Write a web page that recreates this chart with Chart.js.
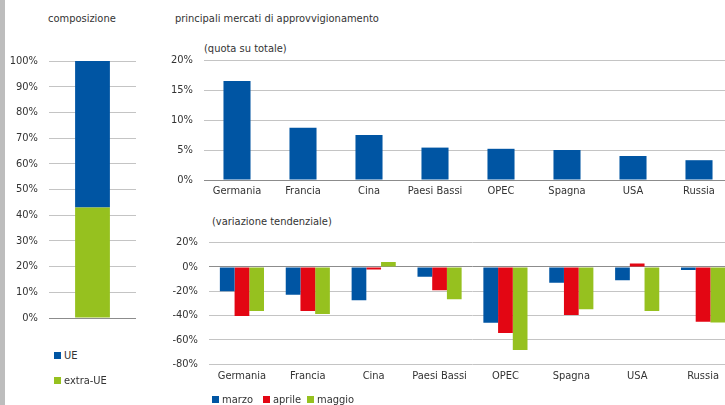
<!DOCTYPE html>
<html><head><meta charset="utf-8">
<script src="https://cdn.jsdelivr.net/npm/chart.js@4/dist/chart.umd.min.js"></script>
<style>
body{margin:0;width:725px;height:405px;overflow:hidden;position:relative;background:#fff;font-family:'DejaVu Sans Condensed','Liberation Sans Narrow',sans-serif;color:#333;}
.strip{position:absolute;left:0;top:0;width:5px;height:405px;background:#bdbdbd}
.t{position:absolute;font-size:11px;white-space:nowrap;line-height:13px}
.box{position:absolute}
.sq{display:inline-block;width:7px;height:7px;margin-right:3px;vertical-align:0px}
</style></head>
<body>
<div class="strip"></div>
<div class="t" style="left:48px;top:12px">composizione</div>
<div class="t" style="left:175px;top:12px">principali mercati di approvvigionamento</div>
<div class="t" style="left:204px;top:42px">(quota su totale)</div>
<div class="t" style="left:212px;top:215px">(variazione tendenziale)</div>
<div class="box" style="left:0;top:0;width:150px;height:340px"><canvas id="c1" width="150" height="340"></canvas></div>
<div class="box" style="left:150px;top:40px;width:590px;height:170px"><canvas id="c2" width="590" height="170"></canvas></div>
<div class="box" style="left:150px;top:225px;width:590px;height:170px"><canvas id="c3" width="590" height="170"></canvas></div>
<div id="leg1"></div>
<div id="leg2"></div>
<script>
// ---- data ----
const compCategory = ['composizione'];
const compSeries = ['extra-UE', 'UE'];
const compExtraUE = [43];
const compUE = [57];
const countries = ['Germania','Francia','Cina','Paesi Bassi','OPEC','Spagna','USA','Russia'];
const quota = [16.5, 8.7, 7.5, 5.4, 5.2, 5.0, 4.0, 3.3];
const months = ['marzo','aprile','maggio'];
const marzo  = [-20, -23, -27.4, -8.2, -46, -13, -11, -2.5];
const aprile = [-40.5, -36.4, -2.2, -19.2, -54.5, -39.7, 2.7, -45.2];
const maggio = [-36.4, -38.9, 4.1, -26.6, -68.5, -35, -36.4, -45.8];
const compTicks = {min:0, max:100, step:10};
const quotaTicks = {min:0, max:20, step:5};
const varTicks = {min:-80, max:20, step:20};

const BLUE = '#0055a3', RED = '#e30613', GREEN = '#96c11f';
const GRID = '#c4c4c4', ZERO = '#8c8c8c';

Chart.defaults.font.family = "'DejaVu Sans Condensed','Liberation Sans Narrow',sans-serif";
Chart.defaults.font.size = 11;
Chart.defaults.color = '#333';
Chart.defaults.animation = false;
Chart.defaults.plugins.legend.display = false;
Chart.defaults.plugins.tooltip.enabled = false;

const gridColor = ctx => (ctx.tick && ctx.tick.value === 0) ? ZERO : GRID;
const pct = v => v + '%';

function yScale(t, w, extra) {
  return Object.assign({
    min: t.min, max: t.max,
    ticks: {stepSize: t.step, callback: pct, padding: 11},
    grid: {color: gridColor, drawTicks: false, lineWidth: 1},
    border: {display: false},
    afterFit: s => { s.width = w; }
  }, extra || {});
}

new Chart(document.getElementById('c1'), {
  type: 'bar',
  data: {
    labels: compCategory,
    datasets: [
      {label: compSeries[0], data: compExtraUE, backgroundColor: GREEN, barPercentage: 0.4, categoryPercentage: 1},
      {label: compSeries[1], data: compUE, backgroundColor: BLUE, barPercentage: 0.4, categoryPercentage: 1}
    ]
  },
  options: {
    responsive: false,
    layout: {padding: {top: 61, right: 14, bottom: 22, left: 0}},
    scales: {
      x: {stacked: true, display: false},
      y: yScale(compTicks, 49, {stacked: true})
    }
  }
});

new Chart(document.getElementById('c2'), {
  type: 'bar',
  data: {
    labels: countries,
    datasets: [{label: 'quota', data: quota, backgroundColor: BLUE, barPercentage: 0.41, categoryPercentage: 1}]
  },
  options: {
    responsive: false,
    layout: {padding: {top: 20, right: 8, bottom: 0, left: 0}},
    scales: {
      x: {grid: {display: false, drawTicks: false}, border: {color: ZERO}, ticks: {padding: 5},
          afterFit: s => { s.height = 30; }},
      y: yScale(quotaTicks, 54)
    }
  }
});

new Chart(document.getElementById('c3'), {
  type: 'bar',
  data: {
    labels: countries,
    datasets: [
      {label: months[0], data: marzo, backgroundColor: BLUE},
      {label: months[1], data: aprile, backgroundColor: RED},
      {label: months[2], data: maggio, backgroundColor: GREEN}
    ]
  },
  options: {
    responsive: false,
    datasets: {bar: {barPercentage: 1, categoryPercentage: 0.67}},
    layout: {padding: {top: 17, right: 4, bottom: 0, left: 0}},
    scales: {
      x: {grid: {display: false, drawTicks: false}, border: {display: false}, ticks: {padding: 6},
          afterFit: s => { s.height = 31; }},
      y: yScale(varTicks, 59)
    }
  }
});

function legend(id, items, positions) {
  const el = document.getElementById(id);
  items.forEach((it, i) => {
    const d = document.createElement('div');
    d.className = 't';
    d.style.left = positions[i][0] + 'px';
    d.style.top = positions[i][1] + 'px';
    d.innerHTML = '<span class="sq" style="background:' + it[1] + '"></span>' + it[0];
    el.appendChild(d);
  });
}
legend('leg1', [['UE', BLUE], ['extra-UE', GREEN]], [[54, 349], [54, 374]]);
legend('leg2', [[months[0], BLUE], [months[1], RED], [months[2], GREEN]], [[212, 393], [263, 393], [307, 393]]);
</script>
</body></html>
